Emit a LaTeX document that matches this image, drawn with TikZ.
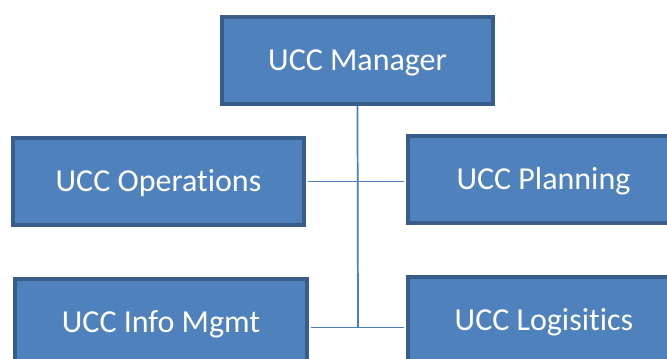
\documentclass[tikz,border=0pt]{standalone}
\usepackage{fontspec}
\setmainfont[Ligatures=NoCommon]{Carlito}
\definecolor{boxfill}{HTML}{4F81BD}
\definecolor{boxline}{HTML}{385D8A}
\definecolor{wire}{HTML}{4A7EBB}
\begin{document}
\begin{tikzpicture}[x=0.75pt,y=-0.75pt,
  orgbox/.style={draw=boxline,fill=boxfill,line width=3pt,text=white,
    font=\fontsize{24}{28}\selectfont,inner sep=0pt,
    text height=15.5pt,text depth=0pt,
    minimum height=87*0.75pt},
  wireline/.style={draw=wire,line width=1.3pt}]
\useasboundingbox (0,0) rectangle (667,358);
\clip (0,0) rectangle (667,358);
\coordinate (jb) at (358,327.5);
\node[orgbox,minimum width=271*0.75pt] (mgr) at (357.5,60.5) {UCC Manager};
\node[orgbox,minimum width=291*0.75pt] (ops) at (158.5,181.5) {UCC Operations};
\node[orgbox,minimum width=271*0.75pt] (plan) at (543.5,179.5) {UCC Planning};
\node[orgbox,minimum width=292*0.75pt] (info) at (161,322.5) {UCC Info Mgmt};
\node[orgbox,minimum width=272*0.75pt] (log) at (544,320.5) {UCC Logisitics};
\draw[wireline] (mgr.south) -- (jb);
\draw[wireline] ([xshift=1.5pt]ops.east) -- ([xshift=-1.5pt]ops.east -| plan.west);
\draw[wireline] ([xshift=1.5pt]info.east |- jb) -- ([xshift=-1.5pt]log.west |- jb);
\end{tikzpicture}
\end{document}
